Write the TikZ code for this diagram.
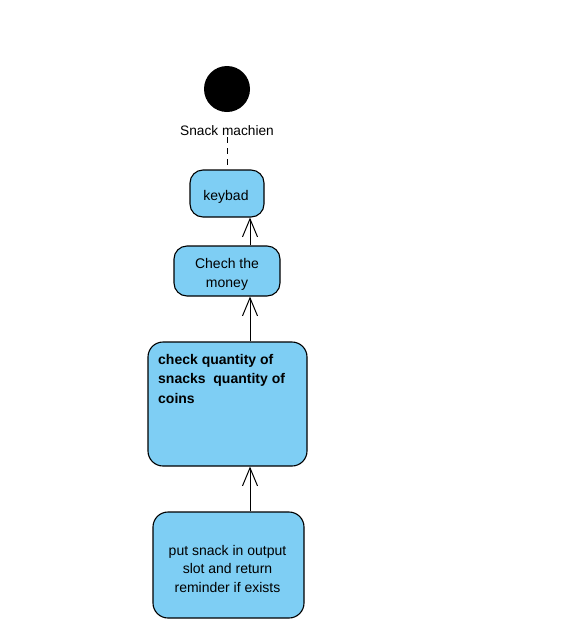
\documentclass[tikz,border=0pt]{standalone}
\usepackage{fontspec}
\setmainfont{Liberation Sans}
\usetikzlibrary{arrows.meta}
\definecolor{actfill}{RGB}{126,206,244}
\tikzset{
  act/.style={draw=black, line width=1.1pt, fill=actfill, rounded corners=13pt, inner sep=0pt},
  acttext/.style={inner sep=0pt, font=\fontsize{14}{19}\selectfont, align=center},
  flow/.style={line width=1pt, -{Straight Barb[length=18pt,width=15pt,line width=1pt]}},
}
\begin{document}
\begin{tikzpicture}[x=1pt,y=-1pt]
  \useasboundingbox[fill=white] (0,0) rectangle (562,638);
  % start state and its caption
  \node (start) [circle, fill=black, minimum size=46pt, inner sep=0pt] at (227,89) {};
  \node (lbl) [font=\fontsize{13.7}{16}\selectfont, inner sep=1pt] at (227,131) {Snack machien};
  % activity boxes
  \node (key) [act, minimum width=74pt, minimum height=47pt] at (227,193.5) {};
  \node (keytxt) [acttext] at (226,197) {keybad};
  \node (money) [act, minimum width=106pt, minimum height=50pt] at (227,271) {};
  \node (moneytxt) [acttext] at (227,274.5) {Chech the\\money};
  \node (check) [act, minimum width=159pt, minimum height=124pt, rounded corners=15pt] at (227.5,404) {};
  \node (checktxt) [anchor=north west, inner sep=0pt, align=left,
    font=\fontsize{14}{19.5}\selectfont\bfseries] at (158,354) {check quantity of\\snacks\ \ quantity of\\coins};
  \node (put) [act, minimum width=151pt, minimum height=106pt, rounded corners=15pt] at (228.5,565) {};
  \node (puttxt) [acttext, font=\fontsize{14}{18.5}\selectfont] at (227.5,568.5) {put snack in output\\slot and return\\reminder if exists};
  % connectors
  \coordinate (ax) at (250,0);
  \draw[line width=1pt, dash pattern=on 6pt off 5pt] (lbl.south) -- (key.north);
  \draw[flow] (money.north -| ax) -- (key.south -| ax);
  \draw[flow] (check.north -| ax) -- (money.south -| ax);
  \draw[flow] (put.north -| ax) -- (check.south -| ax);
\end{tikzpicture}
\end{document}
